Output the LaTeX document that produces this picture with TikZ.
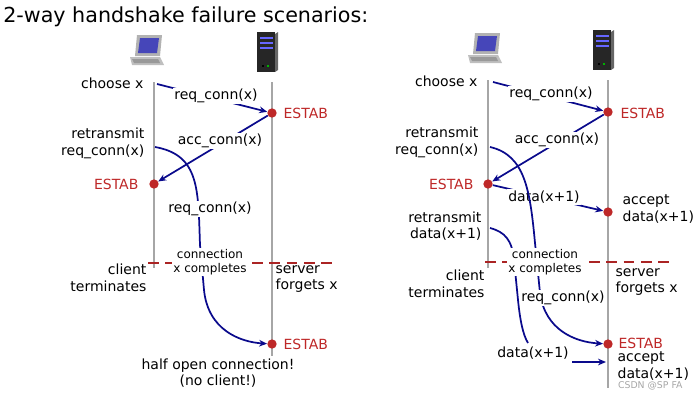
\documentclass[tikz,border=0pt]{standalone}
\usepackage{fontspec}
\setmainfont{DejaVu Sans}
\usetikzlibrary{arrows.meta}
\definecolor{navy}{RGB}{10,10,140}
\definecolor{estab}{RGB}{190,40,40}
\begin{document}
\begin{tikzpicture}[x=0.75pt,y=-0.75pt,
  txt/.style={font=\fontsize{10.5}{12.5}\selectfont,inner sep=1pt,align=center},
  lbl/.style={txt,fill=white},
  small/.style={font=\fontsize{9}{10.5}\selectfont,inner sep=1pt,align=center,fill=white},
  red/.style={txt,text=estab},
  msg/.style={draw=navy,line width=1.3pt,-{Stealth[length=6pt,width=5pt]}},
  msgn/.style={draw=navy,line width=1.3pt},
  tl/.style={draw=gray!70,line width=0.8pt},
  dot/.style={circle,fill=estab,inner sep=0pt,minimum size=7pt},
  reddash/.style={draw=estab!90!black,line width=1.3pt,dash pattern=on 8pt off 5pt}]
\useasboundingbox (0,0) rectangle (698,400);
\node[anchor=west,font=\fontsize{15.5}{18}\selectfont,inner sep=0pt] (title) at (3,17) {2-way handshake failure scenarios:};
% icons
\newcommand{\laptop}[2]{%
  \fill[gray!60] (#1-9,#2-17) -- (#1+16,#2-17) -- (#1+14,#2+4) -- (#1-11,#2+4) -- cycle;
  \fill[blue!45!gray] (#1-6,#2-14) -- (#1+13,#2-14) -- (#1+11,#2+1) -- (#1-8,#2+1) -- cycle;
  \fill[gray!50] (#1-16,#2+5) -- (#1+14,#2+5) -- (#1+18,#2+13) -- (#1-14,#2+13) -- cycle;
  \fill[gray!80] (#1-14,#2+7) -- (#1+12,#2+7) -- (#1+14,#2+11) -- (#1-12,#2+11) -- cycle;}
\newcommand{\tower}[2]{%
  \fill[black!85] (#1-9,#2-20) rectangle (#1+9,#2+20);
  \fill[black!60] (#1+9,#2-18) -- (#1+12,#2-20) -- (#1+12,#2+18) -- (#1+9,#2+20) -- cycle;
  \foreach \k in {-15,-10,-5} {\fill[blue!60] (#1-6,#2+\k) rectangle (#1+7,#2+\k+2);}
  \fill[red] (#1-4,#2+13) rectangle (#1-2,#2+15);
  \fill[green!70!black] (#1+1,#2+13) rectangle (#1+3,#2+15);}
\laptop{146}{52}
\tower{266}{52}
\laptop{484}{50}
\tower{602}{50}
%%%%%%%%%%% LEFT
\coordinate (c1t) at (154,82); \coordinate (c1b) at (154,268);
\coordinate (s1t) at (272,82); \coordinate (s1b) at (272,356);
\draw[tl] (c1t) -- (c1b);
\draw[tl] (s1t) -- (s1b);
\draw[reddash] (148,263) -- (336,263);
\node[txt,anchor=east] (ch1) at (145,83) {choose x};
\coordinate (a1) at (157,84);
\node[dot] (e1) at (272,113) {};
\node[red,anchor=west] (e1t) at (282,113) {ESTAB};
\draw[msg] (a1) -- (e1);
\node[lbl] (r1) at (216,96) {req\_conn(x)};
\node[dot] (e2) at (154,184) {};
\node[red,anchor=east] (e2t) at (140,184) {ESTAB};
\draw[msg] (e1) -- (e2);
\node[lbl] (ac1) at (220,141) {acc\_conn(x)};
\node[txt,align=right,anchor=east] (rt1) at (146,143) {retransmit\\req\_conn(x)};
\node[dot] (e3) at (272,344) {};
\node[red,anchor=west] (e3t) at (282,344) {ESTAB};
\coordinate (b1) at (155,147);
\draw[msg] (b1) .. controls (200,155) and (198,190) .. (200,245) -- (204,290) .. controls (208,330) and (240,342) .. (e3);
\node[lbl] (rr1) at (210,209) {req\_conn(x)};
\node[small] (cc1) at (210,262) {connection\\x completes};
\node[txt,align=right,anchor=east] (ct1) at (148,278) {client\\terminates};
\node[txt,align=left,anchor=west] (sf1) at (274,279) {server\\forgets x};
\node[txt] (ho) at (218,373) {half open connection!\\(no client!)};
%%%%%%%%%%% RIGHT
\coordinate (c2t) at (488,80); \coordinate (c2b) at (488,268);
\coordinate (s2t) at (608,80); \coordinate (s2b) at (608,388);
\draw[tl] (c2t) -- (c2b);
\draw[tl] (s2t) -- (s2b);
\draw[reddash] (485,262) -- (672,262);
\node[txt,anchor=east] (ch2) at (479,81) {choose x};
\coordinate (a2) at (493,82);
\node[dot] (f1) at (608,112) {};
\node[red,anchor=west] (f1t) at (619,113) {ESTAB};
\draw[msg] (a2) -- (f1);
\node[lbl] (r2) at (551,94) {req\_conn(x)};
\node[dot] (f2) at (488,184) {};
\node[red,anchor=east] (f2t) at (475,184) {ESTAB};
\draw[msg] (f1) -- (f2);
\node[lbl] (ac2) at (557,140) {acc\_conn(x)};
\node[dot] (f3) at (608,212) {};
\node[txt,align=left,anchor=west] (acc1) at (621,209) {accept\\data(x+1)};
\draw[msg] (f2) -- (f3);
\node[lbl] (d1) at (544,197) {data(x+1)};
\node[txt,align=right,anchor=east] (rt2) at (480,142) {retransmit\\req\_conn(x)};
\node[dot] (f4) at (608,344) {};
\node[red,anchor=west] (f4t) at (617,343) {ESTAB};
\coordinate (b2) at (490,147);
\draw[msg] (b2) .. controls (525,155) and (530,190) .. (535,243) -- (540,293) .. controls (545,330) and (575,342) .. (f4);
\node[txt,align=right,anchor=east] (rt3) at (483,226) {retransmit\\data(x+1)}; 
\coordinate (b3) at (490,228);
\coordinate (b3e) at (528,343);
\draw[msgn] (b3) .. controls (505,232) and (512,240) .. (514,260) -- (518,300) .. controls (520,320) and (523,335) .. (b3e);
\node[lbl] (rr2) at (563,298) {req\_conn(x)};
\node[small] (cc2) at (545,262) {connection\\x completes};
\node[txt,align=right,anchor=east] (ct2) at (486,284) {client\\terminates};
\node[txt,align=left,anchor=west] (sf2) at (614,282) {server\\forgets x};
\node[txt] (d2) at (533,353) {data(x+1)};
\coordinate (g1) at (572,362); \coordinate (g2) at (606,362);
\draw[msg] (g1) -- (g2);
\node[txt,align=left,anchor=west] (acc2) at (616,366) {accept\\data(x+1)};
\node[font=\fontsize{7}{8}\selectfont,text=gray!70,anchor=east,inner sep=1pt] (wm) at (684,386) {CSDN @SP FA};
\end{tikzpicture}
\end{document}
